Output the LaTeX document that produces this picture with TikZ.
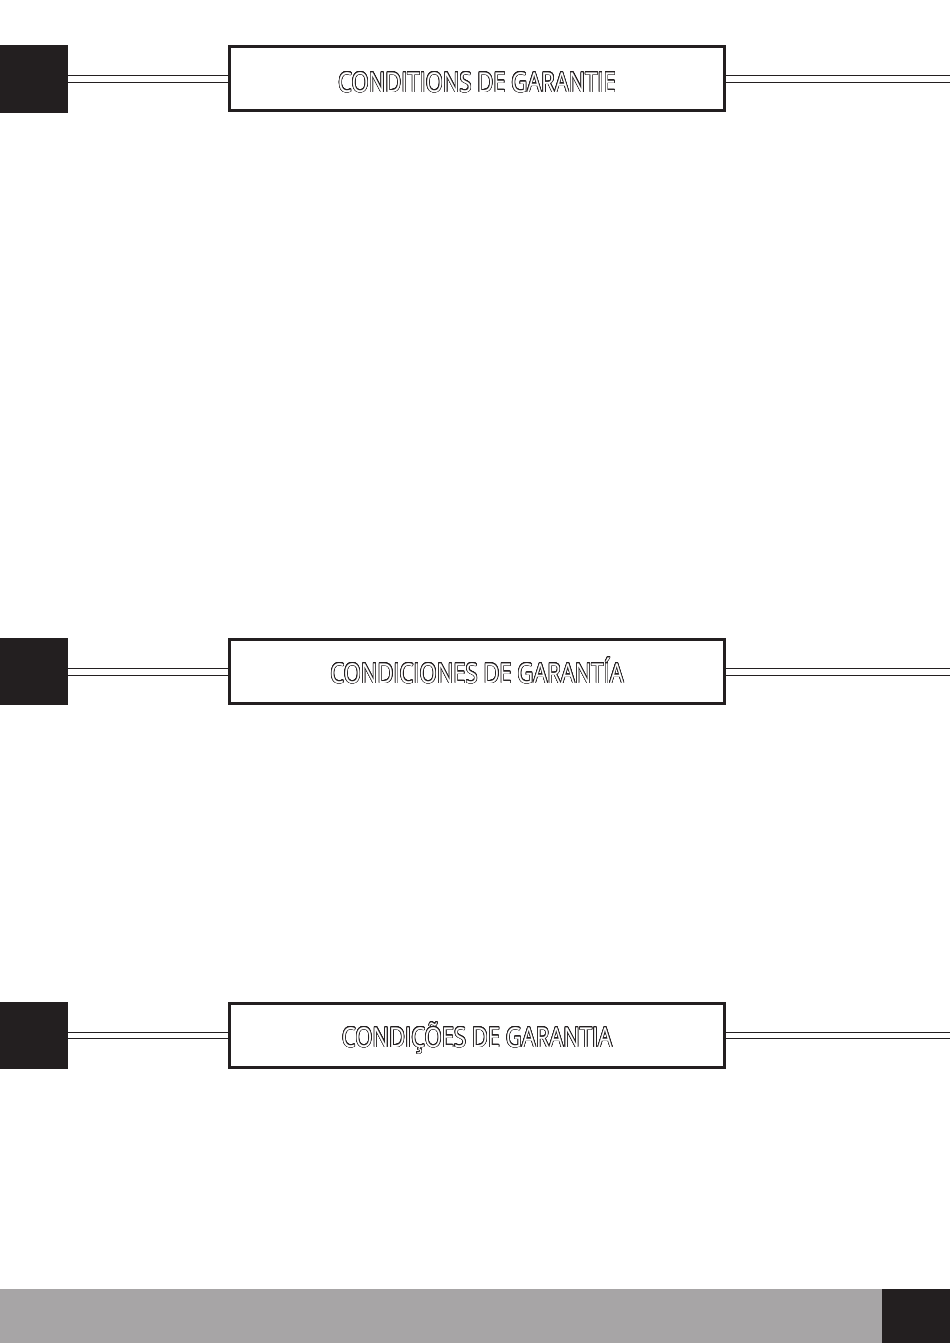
\documentclass[tikz,border=0pt]{standalone}
\usepackage{fontspec}
\setmainfont{Open Sans}[FakeStretch=0.80]
\usepackage[copies]{contour}
\contourlength{0.6pt}
\contournumber{24}
\definecolor{ink}{HTML}{231F20}
\definecolor{bargray}{HTML}{A7A5A6}
\tikzset{
  tab/.style={fill=ink, draw=none},
  titlebox/.style={draw=ink, line width=3pt, fill=white, minimum width=495pt, minimum height=64pt, inner sep=0pt},
  rail/.style={draw=ink, line width=1pt},
  ttext/.style={font=\fontsize{27.5}{27.5}\selectfont, inner sep=0pt, anchor=base}
}
\newcommand{\hollow}[1]{\contour{ink}{\textcolor{white}{#1}}}
\begin{document}
\begin{tikzpicture}[x=1pt,y=-1pt]
\useasboundingbox (0,0) rectangle (950,1344);
% section 1
\fill[tab] (0,45) rectangle (68,112.5);
\node[titlebox] (b1) at (477,78.5) {};
\coordinate (s1a) at (68,75); \coordinate (s1b) at (68,82);
\coordinate (e1a) at (950,75); \coordinate (e1b) at (950,82);
\draw[rail] (s1a) -- (s1a -| b1.west) (s1b) -- (s1b -| b1.west);
\draw[rail] (e1a -| b1.east) -- (e1a) (e1b -| b1.east) -- (e1b);
\node[ttext] (t1) at (477,92) {\hollow{CONDITIONS DE GARANTIE}};
% section 2
\fill[tab] (0,637.7) rectangle (68,705);
\node[titlebox] (b2) at (477,671.5) {};
\coordinate (s2a) at (68,668.3); \coordinate (s2b) at (68,675.3);
\coordinate (e2a) at (950,668.3); \coordinate (e2b) at (950,675.3);
\draw[rail] (s2a) -- (s2a -| b2.west) (s2b) -- (s2b -| b2.west);
\draw[rail] (e2a -| b2.east) -- (e2a) (e2b -| b2.east) -- (e2b);
\node[ttext] (t2) at (477,683) {\hollow{CONDICIONES DE GARANTÍA}};
% section 3
\fill[tab] (0,1001.7) rectangle (68,1069);
\node[titlebox] (b3) at (477,1035.5) {};
\coordinate (s3a) at (68,1032.3); \coordinate (s3b) at (68,1038.8);
\coordinate (e3a) at (950,1032.3); \coordinate (e3b) at (950,1038.8);
\draw[rail] (s3a) -- (s3a -| b3.west) (s3b) -- (s3b -| b3.west);
\draw[rail] (e3a -| b3.east) -- (e3a) (e3b -| b3.east) -- (e3b);
\node[ttext] (t3) at (477,1047) {\hollow{CONDIÇÕES DE GARANTIA}};
% footer
\fill[bargray] (0,1289.3) rectangle (882,1343);
\fill[ink] (882,1289.3) rectangle (950,1343);
\end{tikzpicture}
\end{document}
